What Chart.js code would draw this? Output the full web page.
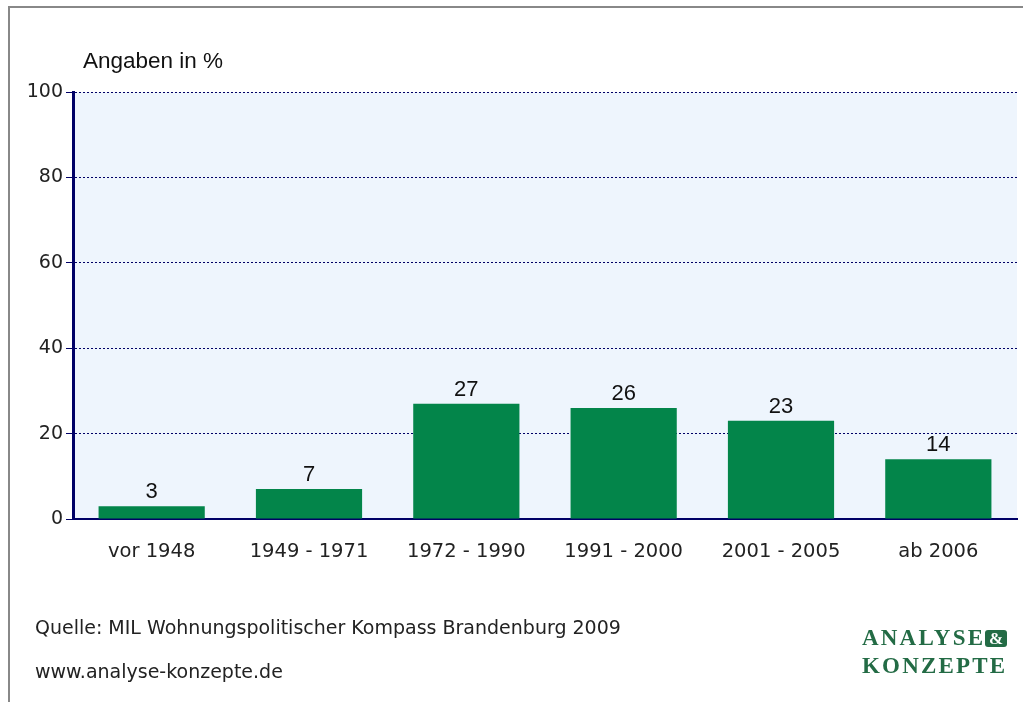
<!DOCTYPE html>
<html lang="de">
<head>
    <meta charset="UTF-8">
    <title>Angaben in %</title>
    <script src="https://cdn.jsdelivr.net/npm/chart.js"></script>
    <style>
        body {
            margin: 0;
            background: #ffffff;
            font-family: "DejaVu Sans", sans-serif;
        }
        #wrap {
            position: relative;
            width: 1023px;
            height: 702px;
            overflow: hidden;
        }
        #frame {
            position: absolute;
            left: 8px;
            top: 6px;
            width: 1100px;
            height: 800px;
            border-left: 2px solid #888888;
            border-top: 2px solid #888888;
        }
        canvas { position: absolute; left: 0; top: 0; }
        .note {
            position: absolute;
            left: 35px;
            font-size: 19px;
            color: #222222;
            white-space: nowrap;
        }
        #logo {
            position: absolute;
            left: 862px;
            top: 624px;
            font-family: "Liberation Serif", serif;
            font-weight: bold;
            font-size: 23px;
            letter-spacing: 2.2px;
            color: #236b45;
            line-height: 28px;
            white-space: nowrap;
        }
        #amp {
            display: inline-block;
            width: 22px;
            height: 17px;
            line-height: 17px;
            background: #236b45;
            color: #ffffff;
            border-radius: 3px;
            letter-spacing: 0;
            text-align: center;
            font-size: 17px;
            vertical-align: 1px;
        }
    </style>
</head>
<body>
<div id="wrap">
    <div id="frame"></div>
    <canvas id="chart" width="1023" height="702"></canvas>
    <div class="note" style="top:616px">Quelle: MIL Wohnungspolitischer Kompass Brandenburg 2009</div>
    <div class="note" style="top:660px">www.analyse-konzepte.de</div>
    <div id="logo">ANALYSE<span id="amp">&amp;</span><br>KONZEPTE</div>
</div>
<script>
    const categories = ['vor 1948', '1949 - 1971', '1972 - 1990', '1991 - 2000', '2001 - 2005', 'ab 2006'];
    const shares = [3, 7, 27, 26, 23, 14];
    const yTicks = [0, 20, 40, 60, 80, 100];

    const navy = '#000066';
    const barGreen = '#03854a';

    // light blue plot background
    const plotBg = {
        id: 'plotBg',
        beforeDraw(chart) {
            const a = chart.chartArea;
            const c = chart.ctx;
            c.save();
            c.fillStyle = '#eef5fd';
            c.fillRect(a.left, a.top, a.right - a.left, a.bottom - a.top);
            c.restore();
        }
    };

    // value labels above bars + axis caption
    const labels = {
        id: 'labels',
        afterDatasetsDraw(chart) {
            const c = chart.ctx;
            c.save();
            c.font = '22px "Liberation Sans", Arial, sans-serif';
            c.fillStyle = '#111111';
            c.textAlign = 'center';
            c.textBaseline = 'alphabetic';
            chart.getDatasetMeta(0).data.forEach((bar, i) => {
                c.fillText(String(shares[i]), bar.x, bar.y - 8);
            });
            c.textAlign = 'left';
            c.font = '22.5px "Liberation Sans", Arial, sans-serif';
            c.fillText('Angaben in %', 83, 68);
            c.restore();
        }
    };

    new Chart(document.getElementById('chart'), {
        type: 'bar',
        data: {
            labels: categories,
            datasets: [{
                data: shares,
                backgroundColor: barGreen,
                borderWidth: 0,
                categoryPercentage: 1,
                barPercentage: 0.675
            }]
        },
        options: {
            responsive: false,
            animation: false,
            devicePixelRatio: 1,
            layout: { padding: { top: 92, right: 6, left: 0, bottom: 0 } },
            plugins: {
                legend: { display: false },
                tooltip: { enabled: false }
            },
            scales: {
                x: {
                    grid: { display: false },
                    border: { display: true, color: navy, width: 2 },
                    ticks: {
                        color: '#222222',
                        padding: 13,
                        maxRotation: 0,
                        font: { family: '"DejaVu Sans", sans-serif', size: 19.5 }
                    },
                    afterFit(scale) { scale.height = 183; }
                },
                y: {
                    min: 0,
                    max: 100,
                    afterBuildTicks(scale) {
                        scale.ticks = yTicks.map(v => ({ value: v }));
                    },
                    grid: {
                        color: navy,
                        lineWidth: 1,
                        tickLength: 7,
                        tickColor: navy,
                        tickWidth: 1,
                        tickBorderDash: [],
                        drawOnChartArea: true
                    },
                    border: { display: true, color: navy, width: 3, dash: [2, 2] },
                    ticks: {
                        color: '#222222',
                        padding: 3,
                        font: { family: '"DejaVu Sans", sans-serif', size: 19 }
                    },
                    afterFit(scale) { scale.width = 73; }
                }
            }
        },
        plugins: [plotBg, labels]
    });
</script>
</body>
</html>
